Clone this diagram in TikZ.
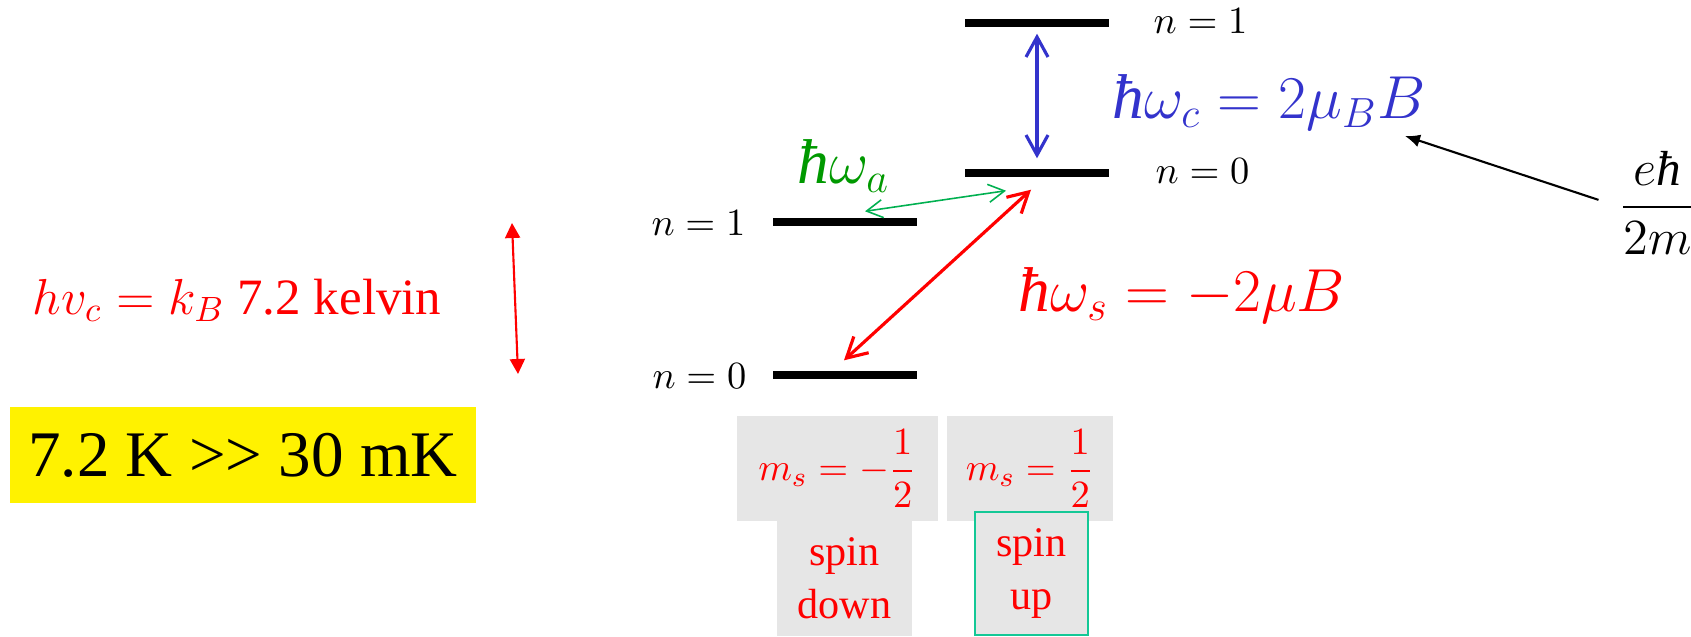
\documentclass[tikz,border=0pt]{standalone}
\usepackage[no-math]{fontspec}
\setmainfont{Liberation Serif}
\usepackage{amsmath}
\usepackage{xcolor}
\usepackage{tikz}
\usetikzlibrary{arrows.meta, positioning}
\definecolor{cycblue}{RGB}{51,51,204}
\definecolor{axgreen}{RGB}{0,153,0}
\definecolor{axlight}{RGB}{0,176,80}
\definecolor{boxgray}{RGB}{230,230,230}
\definecolor{upteal}{RGB}{20,200,150}
\newcommand{\hb}{\text{\itshape ħ}}

\begin{document}
\begin{tikzpicture}[x=0.1mm, y=0.1mm,
    level/.style={rectangle, fill=black, minimum width=14.4mm, minimum height=0.8mm, inner sep=0pt},
    nlabel/.style={font=\fontsize{10.5}{12}\selectfont, inner sep=0pt},
    energy/.style={font=\fontsize{18}{21}\selectfont, inner sep=0pt},
    msbox/.style={rectangle, fill=boxgray, minimum height=10.5mm, inner sep=0pt, text=red, font=\fontsize{11}{13}\selectfont},
    spinbox/.style={rectangle, fill=boxgray, align=center, inner sep=0pt, text=red, font=\fontsize{12}{15}\selectfont},
    arrow/.style={{Straight Barb[length=2mm, width=2.2mm]}-{Straight Barb[length=2mm, width=2.2mm]}, line width=0.9pt},
    thin arrow/.style={{Straight Barb[length=1.6mm, width=1.8mm]}-{Straight Barb[length=1.6mm, width=1.8mm]}, line width=0.45pt},
]
\useasboundingbox (0,0) rectangle (1691,636);

\node[level] (lvlR1) at (1037,613) {};
\node[level] (lvlR0) at (1037,463) {};
\node[level] (lvlL1) at (845,414) {};
\node[level] (lvlL0) at (845,261) {};

\node[nlabel, anchor=base west] (n1R) at (1153,603) {$n = 1$};
\node[nlabel, anchor=base west] (n0R) at (1155,453) {$n = 0$};
\node[nlabel, anchor=base east] (n1L) at (746,401) {$n = 1$};
\node[nlabel, anchor=base east] (n0L) at (747,248) {$n = 0$};

\node[energy, anchor=base west, text=cycblue] (hwc) at (1112,518) {$\hb\omega_c = 2\mu_B B$};
\node[energy, anchor=base west, text=red] (hws) at (1018,325) {$\hb\omega_s = -2\mu B$};
\node[energy, anchor=base west, text=axgreen] (hwa) at (797,453) {$\hb\omega_a$};

\node[anchor=west, inner sep=3pt, font=\fontsize{14}{17}\selectfont] (bohr) at (1608,433) {$\dfrac{e\hb}{2m}$};
\coordinate (muB) at (1405,500);

\node[anchor=base west, inner sep=0pt, text=red, font=\fontsize{14.5}{17}\selectfont] (thermal) at (32,322) {$hv_c = k_B$ 7.2 kelvin};
\coordinate (gapTop) at (512,413);
\coordinate (gapBot) at (518,262);

\node[rectangle, fill=yellow, minimum width=46.6mm, minimum height=9.6mm, inner sep=0pt, font=\fontsize{18.5}{22}\selectfont] (compare) at (243,181) {7.2 K >{}> 30 mK};

\node[msbox, minimum width=20.1mm] (msdown) at (837.5,167.5) {$m_s = -\dfrac{1}{2}$};
\node[msbox, minimum width=16.6mm] (msup) at (1030,167.5) {$m_s = \dfrac{1}{2}$};
\node[spinbox, minimum width=13.5mm, minimum height=11.5mm] (spindown) at (844.5,57.5) {spin\\down};
\node[spinbox, draw=upteal, line width=0.55pt, minimum width=11.3mm, minimum height=12.3mm] (spinup) at (1031.5,62.5) {spin\\up};

\draw[arrow, cycblue, shorten <=0.6mm, shorten >=1mm] (lvlR1.south) -- (lvlR0.north);
\draw[arrow, red] ([shift={(-1,10)}]lvlL0.north) -- ([shift={(-6,-12)}]lvlR0.south);
\draw[thin arrow, axlight] ([shift={(20,6)}]lvlL1.north) -- ([shift={(-31,-13)}]lvlR0.south);
\draw[-{Latex[length=1.5mm, width=1.3mm]}, line width=0.6pt, shorten <=1mm] (bohr.west) -- (muB);
\draw[{Triangle[length=1.5mm, width=1.5mm]}-{Triangle[length=1.5mm, width=1.5mm]}, red, line width=0.6pt] (gapTop) -- (gapBot);
\end{tikzpicture}
\end{document}
